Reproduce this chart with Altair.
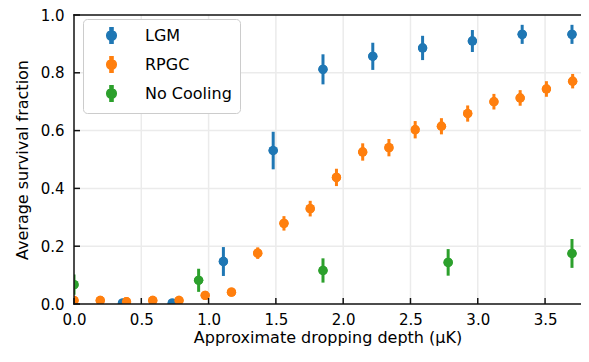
import altair as alt
import pandas as pd

series_names = ["LGM", "RPGC", "No Cooling"]
colors = ["#1f77b4", "#ff7f0e", "#2ca02c"]

lgm_x = [0.36, 0.73, 1.11, 1.48, 1.85, 2.22, 2.59, 2.96, 3.33, 3.70]
lgm_y = [0.003, 0.003, 0.147, 0.531, 0.812, 0.857, 0.886, 0.910, 0.933, 0.933]
lgm_e = [0.003, 0.003, 0.050, 0.065, 0.052, 0.047, 0.042, 0.038, 0.033, 0.033]

rpgc_x = [0.0, 0.195, 0.39, 0.585, 0.78, 0.975, 1.17, 1.365, 1.56, 1.755,
          1.95, 2.145, 2.34, 2.535, 2.73, 2.925, 3.12, 3.315, 3.51, 3.705]
rpgc_y = [0.012, 0.012, 0.008, 0.012, 0.012, 0.030, 0.041, 0.176, 0.279, 0.330,
          0.438, 0.526, 0.541, 0.603, 0.615, 0.659, 0.700, 0.713, 0.744, 0.771]
rpgc_e = [0.004, 0.004, 0.004, 0.004, 0.004, 0.008, 0.010, 0.020, 0.025, 0.027,
          0.030, 0.030, 0.030, 0.030, 0.028, 0.028, 0.027, 0.027, 0.027, 0.025]

nc_x = [0.0, 0.926, 1.85, 2.78, 3.70]
nc_y = [0.067, 0.082, 0.116, 0.144, 0.175]
nc_e = [0.035, 0.040, 0.042, 0.046, 0.050]

x_ticks = [0.0, 0.5, 1.0, 1.5, 2.0, 2.5, 3.0, 3.5]
y_ticks = [0.0, 0.2, 0.4, 0.6, 0.8, 1.0]

rows = []
for name, xs, ys, es in [("LGM", lgm_x, lgm_y, lgm_e),
                         ("RPGC", rpgc_x, rpgc_y, rpgc_e),
                         ("No Cooling", nc_x, nc_y, nc_e)]:
    for xv, yv, ev in zip(xs, ys, es):
        rows.append({"x": xv, "y": yv, "lo": yv - ev, "hi": yv + ev,
                     "series": name, "order": series_names.index(name)})
df = pd.DataFrame(rows)

W, H = 507, 289
FONT = "DejaVu Sans"
XMAX = 3.767
PX_X = XMAX / W      # one pixel in x units
PX_Y = 1.0 / H       # one pixel in y units
TICK_PX = 6
LINE_HALF = 0.75     # half line width in pixels
ty = TICK_PX * PX_Y
tx = TICK_PX * PX_X
hx = LINE_HALF * PX_X
hy = LINE_HALF * PX_Y

# interior grid lines only, starting beyond the inward ticks
xg_df = pd.DataFrame({"x": x_ticks[1:], "y0": [ty] * (len(x_ticks) - 1),
                      "y1": [1.0] * (len(x_ticks) - 1)})
yg_df = pd.DataFrame({"y": y_ticks[1:-1], "x0": [tx] * (len(y_ticks) - 2),
                      "x1": [XMAX] * (len(y_ticks) - 2)})

# frame pieces (ticks and spines) as thin filled rectangles
frame_rows = []
for v in x_ticks:
    frame_rows.append({"x0": v - hx, "x1": v + hx, "y0": 0.0, "y1": ty})
for v in y_ticks:
    frame_rows.append({"x0": 0.0, "x1": tx, "y0": v - hy, "y1": v + hy})
frame_rows.append({"x0": -hx, "x1": XMAX, "y0": 1.0 - hy, "y1": 1.0 + hy})
frame_rows.append({"x0": -hx, "x1": XMAX, "y0": -hy, "y1": hy})
frame_rows.append({"x0": -hx, "x1": hx, "y0": -hy, "y1": 1.0 + hy})
frame_df = pd.DataFrame(frame_rows)

xscale = alt.Scale(domain=[0, XMAX], nice=False, zero=False)
yscale = alt.Scale(domain=[0, 1], nice=False, zero=False)
cscale = alt.Scale(domain=series_names, range=colors)

legend_path = ("M-0.2,-1L0.2,-1L0.2,1L-0.2,1Z"
               "M0.62,0A0.62,0.62 0 1,1 -0.62,0A0.62,0.62 0 1,1 0.62,0Z")

base = alt.Chart(df)

points_guides = base.mark_circle(size=87, opacity=1, clip=True).encode(
    x=alt.X("x:Q", scale=xscale,
            axis=alt.Axis(values=x_ticks, format=".1f", labelFlush=False,
                          ticks=False, domain=False, grid=False,
                          labelPadding=8, labelFontSize=15, labelFont=FONT,
                          labelColor="black",
                          title="Approximate dropping depth (μK)",
                          titleFont=FONT, titleFontSize=16, titleFontWeight="normal",
                          titleColor="black", titlePadding=2)),
    y=alt.Y("y:Q", scale=yscale,
            axis=alt.Axis(values=y_ticks, format=".1f", labelFlush=False,
                          ticks=False, domain=False, grid=False,
                          labelPadding=10, labelFontSize=15, labelFont=FONT,
                          labelColor="black",
                          title="Average survival fraction",
                          titleFont=FONT, titleFontSize=16, titleFontWeight="normal",
                          titleColor="black", titlePadding=10)),
    color=alt.Color("series:N", scale=cscale,
                    legend=alt.Legend(orient="none", legendX=9, legendY=4,
                                      title=None, symbolType=legend_path,
                                      symbolSize=240, symbolOpacity=1,
                                      symbolOffset=12, labelOffset=25,
                                      padding=8, rowPadding=6,
                                      labelFont=FONT, labelFontSize=16,
                                      labelColor="black",
                                      fillColor="white", strokeColor="#cccccc",
                                      cornerRadius=4)),
    order=alt.Order("order:Q"),
)

gridx = alt.Chart(xg_df).mark_rule(color="#ebebeb", strokeWidth=1.5).encode(
    x=alt.X("x:Q", scale=xscale),
    y=alt.Y("y0:Q", scale=yscale), y2="y1:Q",
)
gridy = alt.Chart(yg_df).mark_rule(color="#ebebeb", strokeWidth=1.5).encode(
    y=alt.Y("y:Q", scale=yscale),
    x=alt.X("x0:Q", scale=xscale), x2="x1:Q",
)

bars = base.mark_rule(strokeWidth=3, clip=True).encode(
    x=alt.X("x:Q", scale=xscale),
    y=alt.Y("lo:Q", scale=yscale),
    y2="hi:Q",
    color=alt.Color("series:N", scale=cscale),
)

points = base.mark_circle(size=87, opacity=1, clip=True).encode(
    x=alt.X("x:Q", scale=xscale),
    y=alt.Y("y:Q", scale=yscale),
    color=alt.Color("series:N", scale=cscale),
    order=alt.Order("order:Q"),
)

frame = alt.Chart(frame_df).mark_rect(fill="#111111", opacity=1, strokeWidth=0).encode(
    x=alt.X("x0:Q", scale=xscale), x2="x1:Q",
    y=alt.Y("y0:Q", scale=yscale), y2="y1:Q",
)

chart = alt.layer(points_guides, gridx, gridy, bars, points, frame).properties(
    width=W, height=H,
    padding={"left": 66, "top": 7, "right": 0, "bottom": 46},
    autosize=alt.AutoSizeParams(type="none"),
).configure_view(stroke=None)

chart.save("out.html", embed_options={"renderer": "svg", "actions": False})
